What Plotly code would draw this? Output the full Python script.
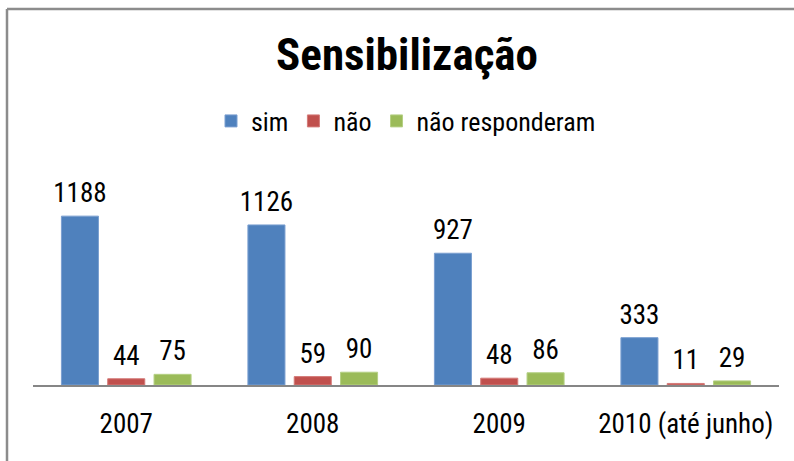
import plotly.graph_objects as go

categories = ["2007", "2008", "2009", "2010 (até junho)"]
sim = [1188, 1126, 927, 333]
nao = [44, 59, 48, 11]
nao_resp = [75, 90, 86, 29]

series_names = ["sim", "não", "não responderam"]
series_values = [sim, nao, nao_resp]
colors = ["#4F81BD", "#C0504D", "#9BBB59"]
edge_colors = ["#7A9FD0", "#D47A78", "#B5D084"]

FONT = "Liberation Sans Narrow, Arial Narrow, Roboto Condensed, Liberation Sans, sans-serif"
BARGAP = 0.255

fig = go.Figure()
for name, vals, c, ec in zip(series_names, series_values, colors, edge_colors):
    fig.add_trace(go.Bar(
        x=categories, y=vals, name=name, offsetgroup=name,
        marker=dict(color=c, line=dict(color=ec, width=1)),
        hoverinfo="skip",
    ))
for name, vals in zip(series_names, series_values):
    fig.add_trace(go.Scatter(
        x=categories, y=vals, offsetgroup=name, mode="markers+text",
        text=[str(v) for v in vals], textposition="top center",
        textfont=dict(family=FONT, size=27, color="#000000"),
        marker=dict(size=10, opacity=0), showlegend=False, hoverinfo="skip",
        cliponaxis=False,
    ))

W, H = 794, 461
L, R, B, T = 33, 15, 76, 186
pw, ph = W - L - R, H - T - B

fig.update_layout(
    width=W, height=H,
    margin=dict(l=L, r=R, t=T, b=B),
    paper_bgcolor="white", plot_bgcolor="white",
    barmode="group", bargap=BARGAP, bargroupgap=0.2,
    scattermode="group", scattergap=BARGAP,
    font=dict(family=FONT, size=27, color="#000000"),
    title=dict(text="<b>Sensibilização</b>", x=407 / W, xanchor="center",
               y=1 - 54 / H, yanchor="middle", xref="container", yref="container",
               font=dict(family=FONT, size=45, color="#000000")),
    legend=dict(orientation="h", xref="container", yref="container",
                x=406 / W, xanchor="center", y=1 - 121 / H, yanchor="middle",
                font=dict(family=FONT, size=26, color="#000000"),
                bgcolor="rgba(0,0,0,0)"),
    xaxis=dict(type="category", showline=True, linecolor="#868686", linewidth=2,
               ticks="", ticklabelstandoff=14, showgrid=False, zeroline=False,
               tickfont=dict(family=FONT, size=27, color="#000000")),
    yaxis=dict(range=[0, 1400], visible=False, showgrid=False, zeroline=False),
    showlegend=True,
)

# outer chart border (cropped at right and bottom)
bx = (7 - L) / pw
by = (H - B - 9) / ph
fig.add_shape(type="line", xref="paper", yref="paper", x0=bx, x1=bx, y0=-2, y1=by,
              line=dict(color="#8C8C8C", width=2.5))
fig.add_shape(type="line", xref="paper", yref="paper", x0=bx, x1=1.5, y0=by, y1=by,
              line=dict(color="#8C8C8C", width=2.5))

fig.write_html("out.html", config={"displayModeBar": False},
               post_script="document.body.style.margin='0';document.body.style.padding='0';")
